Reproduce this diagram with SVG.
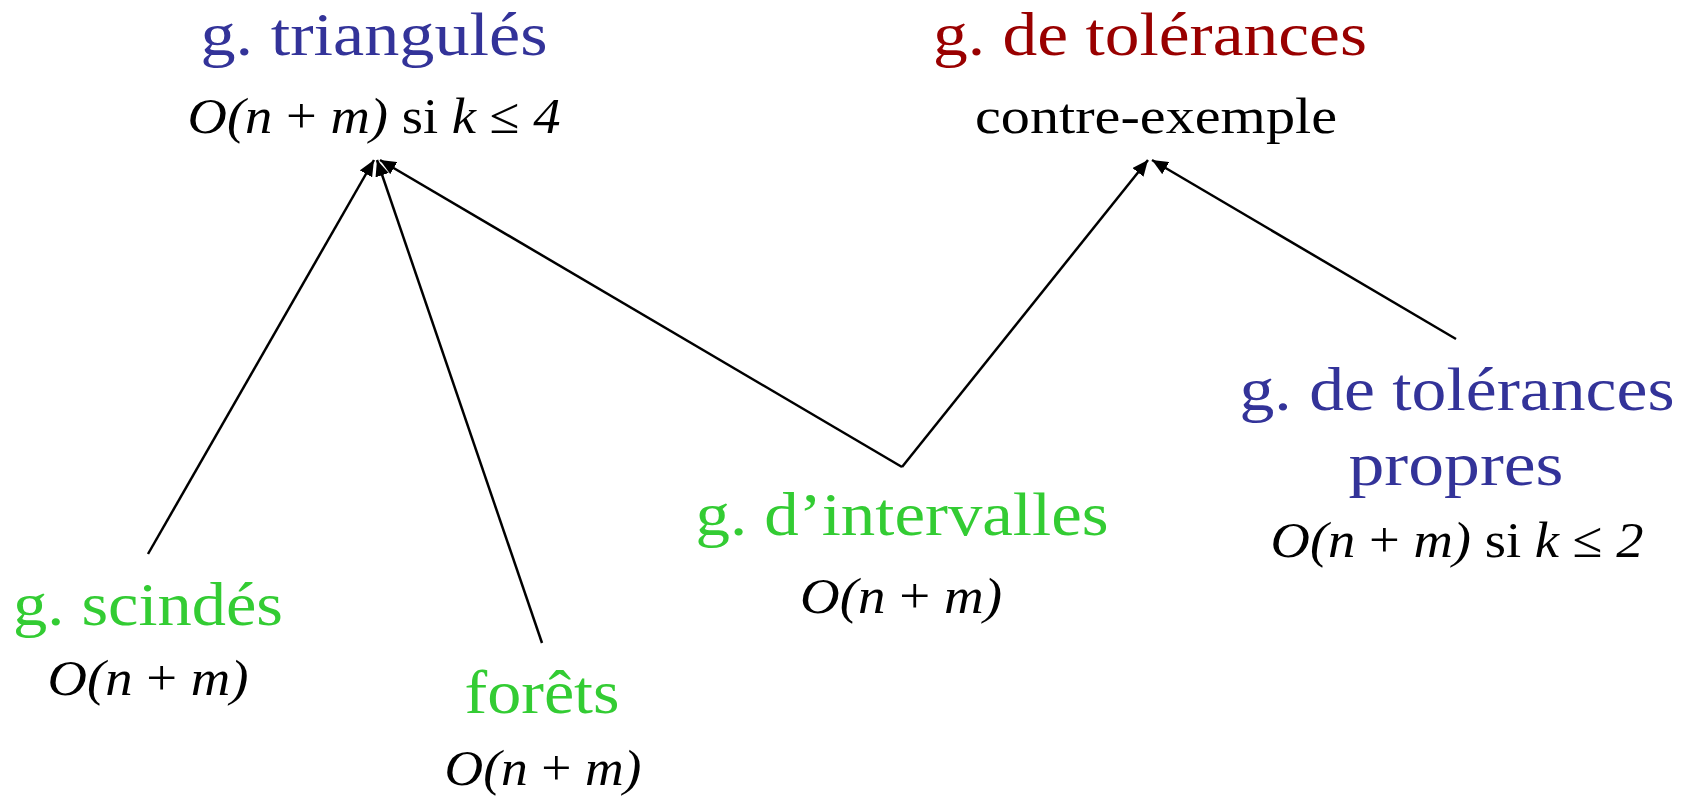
<svg xmlns="http://www.w3.org/2000/svg" width="1694" height="800" viewBox="0 0 1694 800">
<style>
text{font-family:"Liberation Serif","Times New Roman",serif;text-anchor:middle;}
.t{font-size:61px;}
.m{font-size:51px;fill:#000;}
.blue{fill:#333399;}
.red{fill:#990000;}
.green{fill:#33CC33;}
.i{font-style:italic;}
.e line{stroke:#000;stroke-width:2.5;marker-end:url(#ah);}
</style>
<defs>
<marker id="ah" markerUnits="userSpaceOnUse" markerWidth="18" markerHeight="14" refX="16" refY="7" orient="auto">
<path d="M0,0 L16,7 L0,14 Z" fill="#000"/>
</marker>
</defs>
<rect width="1694" height="800" fill="#fff"/>
<g class="e" id="connectors">
<line x1="148" y1="554" x2="374" y2="160"/>
<line x1="542" y1="643" x2="377" y2="160"/>
<line x1="902" y1="467" x2="380" y2="160"/>
<line x1="902" y1="467" x2="1148" y2="160"/>
<line x1="1456" y1="339" x2="1152" y2="160"/>
</g>
<g id="triangules">
<text class="t blue" x="374" y="55" textLength="347" lengthAdjust="spacingAndGlyphs">g. triangulés</text>
<text class="m" x="374" y="133" textLength="373" lengthAdjust="spacingAndGlyphs"><tspan class="i">O(n</tspan> + <tspan class="i">m)</tspan> si <tspan class="i">k</tspan> ≤ <tspan class="i">4</tspan></text>
</g>
<g id="tolerances">
<text class="t red" x="1150" y="55" textLength="434" lengthAdjust="spacingAndGlyphs">g. de tolérances</text>
<text class="m" x="1156" y="133" textLength="362" lengthAdjust="spacingAndGlyphs">contre-exemple</text>
</g>
<g id="scindes">
<text class="t green" x="148" y="625" textLength="270" lengthAdjust="spacingAndGlyphs">g. scindés</text>
<text class="m" x="148" y="695" textLength="201" lengthAdjust="spacingAndGlyphs"><tspan class="i">O(n</tspan> + <tspan class="i">m)</tspan></text>
</g>
<g id="forets">
<text class="t green" x="542" y="713" textLength="155" lengthAdjust="spacingAndGlyphs">forêts</text>
<text class="m" x="543" y="785" textLength="197" lengthAdjust="spacingAndGlyphs"><tspan class="i">O(n</tspan> + <tspan class="i">m)</tspan></text>
</g>
<g id="intervalles">
<text class="t green" x="902" y="535" textLength="413" lengthAdjust="spacingAndGlyphs">g. d’intervalles</text>
<text class="m" x="901" y="613" textLength="202" lengthAdjust="spacingAndGlyphs"><tspan class="i">O(n</tspan> + <tspan class="i">m)</tspan></text>
</g>
<g id="propres">
<text class="t blue" x="1457" y="410" textLength="435" lengthAdjust="spacingAndGlyphs">g. de tolérances</text>
<text class="t blue" x="1456" y="485" textLength="215" lengthAdjust="spacingAndGlyphs">propres</text>
<text class="m" x="1457" y="557" textLength="373" lengthAdjust="spacingAndGlyphs"><tspan class="i">O(n</tspan> + <tspan class="i">m)</tspan> si <tspan class="i">k</tspan> ≤ <tspan class="i">2</tspan></text>
</g>
</svg>
